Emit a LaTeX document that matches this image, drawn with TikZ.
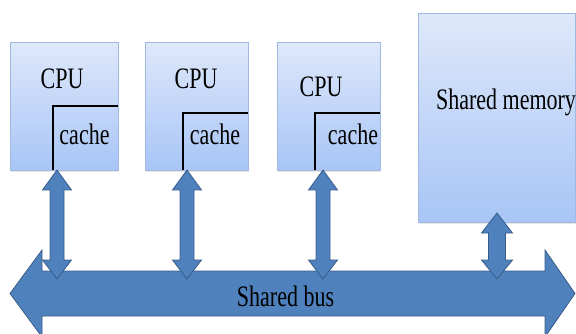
\documentclass[tikz,border=0pt]{standalone}
\usepackage{fontspec}
\setmainfont{Liberation Serif}
\usetikzlibrary{calc,shadows}
\definecolor{boxtop}{RGB}{222,232,250}
\definecolor{boxbot}{RGB}{168,197,246}
\definecolor{boxline}{RGB}{160,185,225}
\definecolor{busfill}{RGB}{79,129,189}
\definecolor{busline}{RGB}{56,93,138}
\tikzset{
  unit/.style={draw=boxline, line width=0.8pt, top color=boxtop, bottom color=boxbot,
    anchor=north west, inner sep=0pt,
    drop shadow={shadow xshift=1pt, shadow yshift=-1.5pt, opacity=0.2}},
  lbl/.style={font=\fontsize{22}{26}\selectfont, anchor=base, inner sep=0pt},
  cacheline/.style={line width=2.5pt},
  blockarrow/.style={fill=busfill, draw=busline, line width=0.8pt, line join=miter},
}
\newcommand\tall[1]{\scalebox{1}[1.35]{#1}}
% vertical double block arrow: top, bottom, half shaft, half head
\newcommand\updown[4]{%
  \filldraw[blockarrow] let \p1=(#1), \p2=(#2) in
    (\x1,\y1) -- (\x1+#4,\y1-20pt) -- (\x1+#3,\y1-20pt) -- (\x2+#3,\y2+19pt)
    -- (\x2+#4,\y2+19pt) -- (\x2,\y2) -- (\x2-#4,\y2+19pt) -- (\x2-#3,\y2+19pt)
    -- (\x1-#3,\y1-20pt) -- (\x1-#4,\y1-20pt) -- cycle;}
\begin{document}
\begin{tikzpicture}[x=1pt,y=-1pt]
  \useasboundingbox (0,0) rectangle (576,334);
  % processors and memory
  \node[unit, minimum width=108pt, minimum height=128pt] (cpu1) at (10,42) {};
  \node[unit, minimum width=103pt, minimum height=128pt] (cpu2) at (145,42) {};
  \node[unit, minimum width=103pt, minimum height=128pt] (cpu3) at (277,42) {};
  \node[unit, minimum width=157pt, minimum height=209pt] (mem) at (418,13) {};
  \draw[cacheline] (53,170) |- (118,106);
  \draw[cacheline] (183,170) |- (248,113);
  \draw[cacheline] (315,170) |- (380,113);
  \node[lbl] (cpu1txt) at (62,89) {\tall{CPU}};
  \node[lbl] (cpu2txt) at (196,89) {\tall{CPU}};
  \node[lbl] (cpu3txt) at (321,97) {\tall{CPU}};
  \node[lbl] (cache1) at (84.5,145) {\tall{cache}};
  \node[lbl] (cache2) at (215,145) {\tall{cache}};
  \node[lbl] (cache3) at (353,145) {\tall{cache}};
  \node[lbl] (memtxt) at (506,110) {\tall{Shared memory}};
  % bus
  \coordinate (busL) at (10,293.5);
  \coordinate (busR) at (575,293.5);
  \filldraw[blockarrow] let \p1=(busL), \p2=(busR) in
    (\x1,\y1) -- (\x1+32pt,\y1+43.5pt) -- (\x1+32pt,\y1+22.5pt) -- (\x2-30pt,\y2+22.5pt)
    -- (\x2-30pt,\y2+43.5pt) -- (\x2,\y2) -- (\x2-30pt,\y2-43.5pt) -- (\x2-30pt,\y2-22.5pt)
    -- (\x1+32pt,\y1-22.5pt) -- (\x1+32pt,\y1-43.5pt) -- cycle;
  \node[lbl] (bus) at (285.5,306) {\tall{Shared bus}};
  % links to the bus
  \coordinate (t1) at (57,170);  \coordinate (b1) at (57,279);
  \coordinate (t2) at (187,170); \coordinate (b2) at (187,279);
  \coordinate (t3) at (323,170); \coordinate (b3) at (323,279);
  \coordinate (t4) at (497,213); \coordinate (b4) at (497,279);
  \updown{t1}{b1}{7pt}{14.5pt}
  \updown{t2}{b2}{7pt}{14.5pt}
  \updown{t3}{b3}{7pt}{14.5pt}
  \updown{t4}{b4}{8.5pt}{15.5pt}
\end{tikzpicture}
\end{document}
